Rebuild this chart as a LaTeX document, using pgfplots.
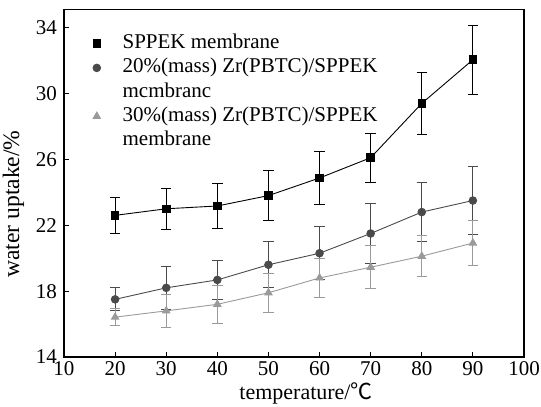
\documentclass[border=0pt]{standalone}
\usepackage{pgfplots}
\pgfplotsset{compat=1.18}
\usepackage{fontspec}
\setmainfont{Liberation Serif}
\newfontfamily\cjk{Noto Sans CJK SC}
\definecolor{cB}{HTML}{4A4A4A}
\definecolor{cC}{HTML}{9A9A9A}
\begin{document}
\begin{tikzpicture}
\begin{axis}[
  scale only axis,
  width=230pt, height=173.75pt,
  xmin=10, xmax=100, ymin=14, ymax=35.1,
  xtick={10,20,...,100}, ytick={14,18,...,34},
  tick align=inside, xtick pos=bottom, ytick pos=left,
  major tick length=2.3pt,
  axis line style={line width=0.55pt},
  tick style={line width=0.5pt, black},
  font=\fontsize{10.5}{12}\selectfont,
  /pgf/number format/assume math mode=true,
  xticklabel style={yshift=1.5pt},
  xlabel={temperature/{\cjk ℃}},
  ylabel={water uptake/\%},
  xlabel style={yshift=3pt, xshift=6pt, font=\fontsize{11}{13}\selectfont},
  ylabel style={at={(ticklabel cs:0.44)}, anchor=near ticklabel, yshift=-1pt, font=\fontsize{11.8}{14}\selectfont},
  legend style={draw=none, fill=none, at={(rel axis cs:0,1)}, anchor=north west,
    xshift=14.3pt, yshift=-11.9pt, inner sep=0pt,
    font=\fontsize{10.5}{12}\selectfont, row sep=2.1pt, column sep=11pt,
    nodes={inner sep=0pt, text height=7.5pt, text depth=2.5pt}},
  legend cell align=left,
  legend image code/.code={\draw[#1] plot[only marks] coordinates {(0pt,0pt)};},
  every axis plot/.append style={line width=0.45pt},
]
\addplot[black, mark=square*, mark size=1.9pt, mark options={solid},
  error bars/.cd, y dir=both, y explicit,
  error bar style={line width=0.5pt},
  error mark options={rotate=90, mark size=2.6pt, line width=0.5pt, black}]
coordinates {
(20,22.6) +- (0,1.1)
(30,23.0) +- (0,1.25)
(40,23.17) +- (0,1.35)
(50,23.8) +- (0,1.5)
(60,24.87) +- (0,1.6)
(70,26.1) +- (0,1.5)
(80,29.4) +- (0,1.9)
(90,32.05) +- (0,2.1)
};
\addlegendentry{SPPEK membrane}
\addplot[cB, mark=*, mark size=1.9pt,
  error bars/.cd, y dir=both, y explicit,
  error bar style={line width=0.5pt},
  error mark options={rotate=90, mark size=2.6pt, line width=0.5pt, cB}]
coordinates {
(20,17.5) +- (0,0.7)
(30,18.2) +- (0,1.3)
(40,18.68) +- (0,1.2)
(50,19.6) +- (0,1.4)
(60,20.3) +- (0,1.6)
(70,21.5) +- (0,1.8)
(80,22.8) +- (0,1.8)
(90,23.5) +- (0,2.05)
};
\addlegendentry{20\%(mass) Zr(PBTC)/SPPEK}
\addlegendimage{empty legend}
\addlegendentry{mcmbranc}
\addplot[cC, mark=triangle*, mark size=2.1pt,
  error bars/.cd, y dir=both, y explicit,
  error bar style={line width=0.5pt},
  error mark options={rotate=90, mark size=2.6pt, line width=0.5pt, cC}]
coordinates {
(20,16.42) +- (0,0.5)
(30,16.8) +- (0,1.0)
(40,17.2) +- (0,1.15)
(50,17.9) +- (0,1.2)
(60,18.8) +- (0,1.2)
(70,19.45) +- (0,1.3)
(80,20.12) +- (0,1.25)
(90,20.92) +- (0,1.35)
};
\addlegendentry{30\%(mass) Zr(PBTC)/SPPEK}
\addlegendimage{empty legend}
\addlegendentry{membrane}
\end{axis}
\path (current axis.south west) ++(-32pt,-25pt) coordinate (bbA);
\path (current axis.north east) ++(8.5pt,4.75pt) coordinate (bbB);
\pgfresetboundingbox
\path[use as bounding box] (bbA) rectangle (bbB);
\end{tikzpicture}
\end{document}
